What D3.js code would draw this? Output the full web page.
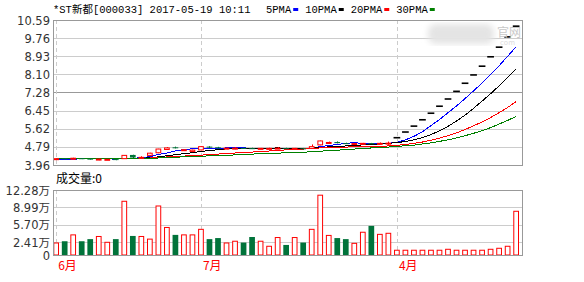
<!DOCTYPE html>
<html><head><meta charset="utf-8">
<script src="https://cdn.jsdelivr.net/npm/d3@7"></script>
<style>
html,body{margin:0;padding:0;background:#fff;}
svg{display:block;}
</style></head>
<body>
<svg id="c" width="584" height="282"></svg>
<script>
// ---------- DATA ----------
const title = "*ST新都[000033] 2017-05-19 10:11";
const legendNames = ["5PMA","10PMA","20PMA","30PMA"];
const legendColors = ["#0000ff","#000000","#ff0000","#008000"];
const priceTicks = [3.96,4.79,5.62,6.45,7.28,8.10,8.93,9.76,10.59];
const priceTickLabels = ["3.96","4.79","5.62","6.45","7.28","8.10","8.93","9.76","10.59"];
const volTicks = [0,2.41,5.70,8.99,12.28];
const volTickLabels = ["0","2.41万","5.70万","8.99万","12.28万"];
const monthIdx = [0,17,40];
const monthLabels = ["6月","7月","4月"];
const volumeLabel = "成交量:0";

const open  = [4.22,4.27,4.23,4.27,4.25,4.21,4.20,4.23,4.25,4.42,4.29,4.40,4.52,4.67,4.77,4.62,4.58,4.65,4.80,4.77,
               4.70,4.70,4.74,4.73,4.70,4.70,4.72,4.73,4.70,4.72,4.72,4.88,4.97,5.01,4.96,4.90,4.93,4.96,4.92,4.92,
               5.21,5.47,5.74,6.03,6.33,6.65,6.98,7.33,7.70,8.08,8.48,8.91,9.35,9.82,10.31];
const high  = [4.27,4.28,4.29,4.28,4.27,4.25,4.23,4.24,4.41,4.43,4.36,4.52,4.70,4.78,4.80,4.68,4.66,4.82,4.82,4.79,
               4.75,4.78,4.76,4.75,4.74,4.75,4.78,4.75,4.74,4.74,4.90,5.08,5.03,5.04,4.98,4.96,4.97,4.97,4.99,5.03,
               5.21,5.47,5.74,6.03,6.33,6.65,6.98,7.33,7.70,8.08,8.48,8.91,9.35,9.82,10.31];
const low   = [4.20,4.22,4.22,4.23,4.21,4.18,4.19,4.18,4.24,4.28,4.27,4.38,4.50,4.65,4.72,4.60,4.55,4.63,4.72,4.72,
               4.68,4.68,4.70,4.69,4.68,4.69,4.70,4.69,4.68,4.68,4.71,4.86,4.95,4.95,4.92,4.89,4.92,4.92,4.90,4.88,
               5.21,5.47,5.74,6.03,6.33,6.65,6.98,7.33,7.70,8.08,8.48,8.91,9.35,9.82,10.31];
const close = [4.25,4.24,4.27,4.25,4.23,4.23,4.22,4.20,4.40,4.30,4.31,4.50,4.69,4.74,4.75,4.66,4.64,4.80,4.77,4.74,
               4.73,4.73,4.72,4.71,4.72,4.72,4.73,4.71,4.72,4.70,4.80,5.06,4.99,4.96,4.93,4.94,4.95,4.94,4.95,4.96,
               5.21,5.47,5.74,6.03,6.33,6.65,6.98,7.33,7.70,8.08,8.48,8.91,9.35,9.82,10.31];
const volume = [2.27,2.60,3.80,2.60,3.00,3.50,2.40,3.00,10.15,3.60,3.50,3.00,9.26,5.20,3.80,3.80,3.80,4.85,3.00,3.20,
                2.27,2.60,2.35,3.40,2.60,1.65,3.30,1.90,3.30,2.35,4.85,11.30,3.70,3.20,3.00,2.20,4.30,5.50,3.90,4.10,
                0.90,0.90,0.90,0.90,0.90,0.90,1.08,0.90,0.90,0.90,0.90,1.08,1.27,1.65,8.26];
const ma5  = [4.22,4.22,4.23,4.24,4.25,4.24,4.24,4.23,4.26,4.27,4.29,4.34,4.44,4.51,4.60,4.67,4.70,4.72,4.72,4.72,
              4.74,4.75,4.74,4.73,4.72,4.72,4.72,4.72,4.72,4.72,4.73,4.80,4.85,4.90,4.95,4.98,4.95,4.94,4.94,4.95,
              5.00,5.11,5.27,5.48,5.76,6.04,6.35,6.66,7.00,7.35,7.71,8.10,8.50,8.93,9.37];
const ma10 = [4.25,4.25,4.25,4.25,4.25,4.25,4.24,4.24,4.25,4.26,4.27,4.29,4.33,4.38,4.43,4.48,4.52,4.58,4.62,4.66,
              4.70,4.73,4.73,4.73,4.72,4.73,4.74,4.73,4.72,4.72,4.73,4.76,4.79,4.81,4.83,4.85,4.88,4.90,4.92,4.95,
              4.99,5.03,5.11,5.21,5.35,5.52,5.73,5.97,6.24,6.55,6.88,7.22,7.58,7.96,8.36];
const ma20 = [4.28,4.28,4.28,4.27,4.27,4.27,4.27,4.26,4.27,4.27,4.27,4.28,4.30,4.33,4.35,4.37,4.39,4.41,4.44,4.46,
              4.48,4.51,4.53,4.55,4.58,4.60,4.63,4.65,4.67,4.69,4.71,4.74,4.76,4.77,4.78,4.79,4.81,4.81,4.82,4.83,
              4.86,4.90,4.95,5.01,5.09,5.19,5.30,5.43,5.58,5.75,5.93,6.13,6.35,6.59,6.86];
const ma30 = [4.26,4.26,4.26,4.26,4.26,4.26,4.26,4.25,4.26,4.26,4.26,4.27,4.28,4.30,4.32,4.33,4.34,4.36,4.38,4.39,
              4.41,4.42,4.44,4.46,4.47,4.49,4.50,4.52,4.53,4.55,4.56,4.59,4.62,4.64,4.66,4.69,4.71,4.74,4.75,4.78,
              4.81,4.84,4.87,4.92,4.97,5.04,5.11,5.20,5.30,5.41,5.53,5.67,5.83,6.00,6.18];
const maSeries = [ma5, ma10, ma20, ma30];

// ---------- LAYOUT ----------
const L = 53, R = 523;
const pTop = 20, pBot = 165;
const vTop = 190, vBot = 255;
const UP = "#ff0000", DOWN = "#00733a", FLAT = "#000000";
const GRID = "#cccccc", FRAME = "#999999", DASH = "#cccccc";
const labFont = "'DejaVu Sans', 'Noto Sans CJK SC', sans-serif";
const monoFont = "'Liberation Mono', 'Noto Sans CJK SC', monospace";

const svg = d3.select("#c");
const n = close.length;
const x = d3.scaleBand().domain(d3.range(n)).range([53.3, 519.0]).paddingInner(0.33).paddingOuter(0);
const cx = i => x(i) + x.bandwidth()/2;
const y = d3.scaleLinear().domain([3.96, 10.59]).range([pBot, pTop]);
const yv = d3.scaleLinear().domain([0, 12.28]).range([vBot, vTop]);

// watermark (blurred)
const defs = svg.append("defs");
defs.append("filter").attr("id","blur").append("feGaussianBlur").attr("stdDeviation", 3);

// ---------- PRICE PANEL ----------
const gP = svg.append("g");
gP.append("rect").attr("x", L).attr("y", pTop).attr("width", R-L).attr("height", pBot-pTop)
  .attr("fill","#fff");
gP.selectAll("line.grid").data(priceTicks.slice(1,-1)).join("line")
  .attr("x1", L).attr("x2", R)
  .attr("y1", d => Math.round(y(d))+0.5).attr("y2", d => Math.round(y(d))+0.5)
  .attr("stroke", (d,i) => i === 3 ? FRAME : GRID).attr("stroke-width", 1);
gP.selectAll("line.vd").data(monthIdx).join("line")
  .attr("x1", d => Math.round(cx(d))+0.5).attr("x2", d => Math.round(cx(d))+0.5)
  .attr("y1", pTop).attr("y2", pBot)
  .attr("stroke", DASH).attr("stroke-dasharray","4,3");

// watermark
const wm = svg.append("g");
wm.append("rect").attr("x", 428).attr("y", 24).attr("width", 66).attr("height", 20).attr("rx", 8)
  .attr("fill", "#e4e4e4").attr("filter","url(#blur)");
wm.append("text").attr("x", 497).attr("y", 37).text("官网")
  .attr("font-family","'Noto Sans CJK SC'").attr("font-size", 12).attr("fill","#c8c8c8");
wm.append("text").attr("x", 500).attr("y", 45).text("com")
  .attr("font-family",labFont).attr("font-size", 7).attr("fill","#dcdcdc");

// MA lines
const line = (arr) => d3.line().x((d,i) => cx(i)).y(d => y(d))(arr);
maSeries.forEach((arr, k) => {
  gP.append("path").attr("d", line(arr)).attr("fill","none")
    .attr("stroke", legendColors[k]).attr("stroke-width", 1).attr("shape-rendering","crispEdges");
});

// candles
const candles = gP.append("g");
d3.range(n).forEach(i => {
  const o = open[i], c = close[i];
  const col = c > o ? UP : (c < o ? DOWN : FLAT);
  const mid = Math.round(cx(i)) + 0.5;
  if (high[i] !== low[i]) {
    candles.append("line").attr("x1", mid).attr("x2", mid)
      .attr("y1", y(high[i])).attr("y2", y(low[i])).attr("stroke", col).attr("stroke-width", 1);
  }
  const top = y(Math.max(o,c)), bot = y(Math.min(o,c));
  const h = Math.max(1, bot - top);
  if (c > o) {
    candles.append("rect").attr("x", x(i)+0.5).attr("y", top).attr("width", x.bandwidth()-1).attr("height", h)
      .attr("fill","#fff").attr("stroke", UP).attr("stroke-width", 1);
  } else if (c < o) {
    candles.append("rect").attr("x", x(i)).attr("y", top).attr("width", x.bandwidth()).attr("height", h)
      .attr("fill", DOWN);
  } else {
    candles.append("rect").attr("x", x(i)-0.5).attr("y", top-0.75).attr("width", x.bandwidth()+1).attr("height", 1.6)
      .attr("fill", FLAT);
  }
});

// frame
gP.append("rect").attr("x", L+0.5).attr("y", pTop+0.5).attr("width", R-L-1).attr("height", pBot-pTop)
  .attr("fill","none").attr("stroke", FRAME).attr("stroke-width", 1);

// price axis labels
svg.append("g").selectAll("text").data(priceTicks).join("text")
  .attr("x", 50).attr("y", d => y(d) + 4.5).attr("text-anchor","end")
  .attr("font-family", labFont).attr("font-size", 11.5).attr("fill","#333")
  .text((d,i) => priceTickLabels[i]);

// title & legend
svg.append("text").attr("x", L).attr("y", 13).text(title)
  .attr("font-family", monoFont).attr("font-size", 10.5).attr("fill","#000");
let lx = 266;
legendNames.forEach((nm, k) => {
  const t = svg.append("text").attr("x", lx).attr("y", 13).text(nm)
    .attr("font-family", monoFont).attr("font-size", 10.5).attr("fill","#000");
  const w = t.node().getComputedTextLength();
  svg.append("rect").attr("x", lx + w + 2).attr("y", 8).attr("width", 5).attr("height", 3).attr("fill", legendColors[k]);
  lx += w + 14;
});

// ---------- VOLUME PANEL ----------
const gV = svg.append("g");
gV.selectAll("line.grid").data(volTicks.slice(1,-1)).join("line")
  .attr("x1", L).attr("x2", R)
  .attr("y1", d => Math.round(yv(d))+0.5).attr("y2", d => Math.round(yv(d))+0.5)
  .attr("stroke", GRID);
gV.selectAll("line.vd").data(monthIdx).join("line")
  .attr("x1", d => Math.round(cx(d))+0.5).attr("x2", d => Math.round(cx(d))+0.5)
  .attr("y1", vTop).attr("y2", vBot)
  .attr("stroke", DASH).attr("stroke-dasharray","4,3");
gV.selectAll("rect.v").data(volume).join("rect")
  .attr("x", (d,i) => close[i] < open[i] ? x(i) : x(i)+0.5)
  .attr("y", d => yv(d))
  .attr("width", (d,i) => close[i] < open[i] ? x.bandwidth() : x.bandwidth()-1)
  .attr("height", d => vBot - yv(d))
  .attr("fill", (d,i) => close[i] < open[i] ? DOWN : "#fff")
  .attr("stroke", (d,i) => close[i] < open[i] ? "none" : UP)
  .attr("stroke-width", 1);
gV.append("rect").attr("x", L+0.5).attr("y", vTop+0.5).attr("width", R-L-1).attr("height", vBot-vTop)
  .attr("fill","none").attr("stroke", FRAME);

svg.append("g").selectAll("text").data(volTicks).join("text")
  .attr("x", 50).attr("y", d => yv(d) + 4.5).attr("text-anchor","end")
  .attr("font-family", labFont).attr("font-size", 11.5).attr("fill","#333")
  .text((d,i) => volTickLabels[i]);

svg.append("text").attr("x", 56).attr("y", 183).text(volumeLabel)
  .attr("font-family", "'Noto Sans CJK SC', sans-serif").attr("font-size", 12).attr("fill","#000");

// month labels
svg.append("g").selectAll("text").data(monthIdx).join("text")
  .attr("x", d => cx(d) + 2).attr("y", 270)
  .attr("font-family", "'Noto Sans CJK SC', sans-serif").attr("font-size", 12).attr("fill", UP)
  .text((d,i) => monthLabels[i]);
</script>
</body></html>
